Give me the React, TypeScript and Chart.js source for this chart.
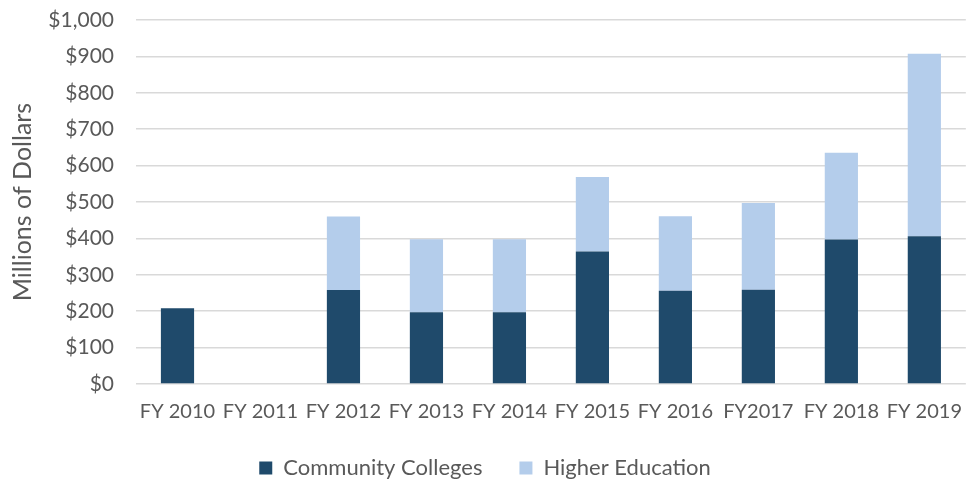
import React, { useEffect, useRef } from "react";
import { Chart, registerables } from "chart.js";

Chart.register(...registerables);

const categories = ["FY 2010", "FY 2011", "FY 2012", "FY 2013", "FY 2014", "FY 2015", "FY 2016", "FY2017", "FY 2018", "FY 2019"];
const communityColleges = [208, null, 258, 197, 197, 364, 256, 259, 397, 406];
const higherEducation = [null, null, 202, 201, 201, 205, 205, 238, 238, 501];
const yTicksMax = 1000;
const yTicksStep = 100;

const TEXT = "#595959";
const FONT = "Lato";

export default function App() {
  const ref = useRef<HTMLCanvasElement | null>(null);
  useEffect(() => {
    const canvas = ref.current;
    if (!canvas) return;
    const chart = new Chart(canvas, {
      type: "bar",
      data: {
        labels: categories,
        datasets: [
          {
            label: "Community Colleges",
            data: communityColleges,
            backgroundColor: "#1F4A6B",
            barPercentage: 0.4,
            categoryPercentage: 1,
          },
          {
            label: "Higher Education",
            data: higherEducation,
            backgroundColor: "#B4CDEB",
            barPercentage: 0.4,
            categoryPercentage: 1,
          },
        ],
      },
      options: {
        animation: false,
        responsive: false,
        devicePixelRatio: 1,
        layout: { padding: { top: 20, right: 0, left: 0, bottom: -8 } },
        plugins: {
          tooltip: { enabled: false },
          legend: {
            position: "bottom",
            labels: {
              boxWidth: 13,
              boxHeight: 13,
              padding: 37,
              color: TEXT,
              font: { family: FONT, size: 22 },
            },
          },
        },
        scales: {
          x: {
            stacked: true,
            grid: { display: false },
            border: { display: false },
            ticks: { color: TEXT, font: { family: FONT, size: 20 }, padding: 8, maxRotation: 0, autoSkip: false },
            afterFit: (s: any) => {
              s.height = 36;
            },
          },
          y: {
            stacked: true,
            min: 0,
            max: yTicksMax,
            grid: { color: "#D9D9D9", lineWidth: 1.5, drawTicks: false },
            border: { display: false },
            ticks: {
              stepSize: yTicksStep,
              color: TEXT,
              padding: 22,
              font: { family: FONT, size: 21 },
              callback: (v: any) => "$" + Number(v).toLocaleString("en-US"),
            },
            title: {
              display: true,
              text: "Millions of Dollars",
              color: TEXT,
              font: { family: FONT, size: 25 },
              padding: { top: 8, bottom: 4 },
            },
            afterFit: (s: any) => {
              s.width = 136;
              s.paddingTop = 12;
              s.paddingBottom = 12;
            },
          },
        },
      },
    });
    return () => chart.destroy();
  }, []);
  return (
    <div style={{ position: "fixed", left: 0, top: 0, width: 970, height: 481, background: "#fff" }}>
      <canvas ref={ref} width={970} height={481} style={{ width: 970, height: 481 }} />
    </div>
  );
}
